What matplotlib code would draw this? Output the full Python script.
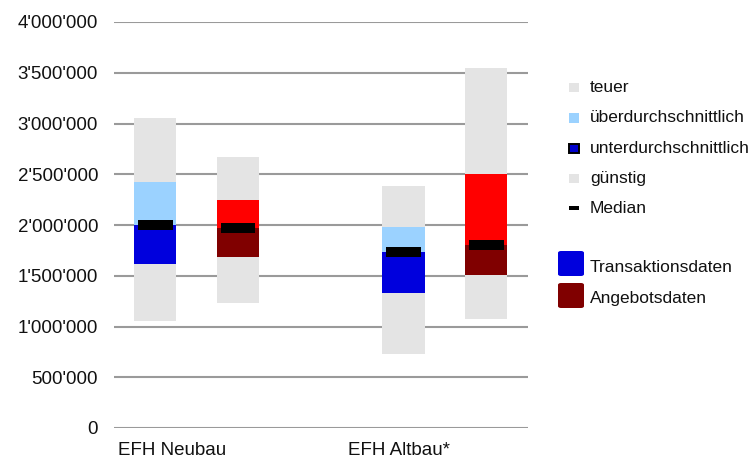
import matplotlib
matplotlib.use("Agg")
import matplotlib.pyplot as plt
from matplotlib.patches import Rectangle, FancyBboxPatch
from matplotlib.ticker import FuncFormatter

plt.rcParams["font.family"] = ["Liberation Sans", "DejaVu Sans"]

# Price ranges (CHF) per property type and data source
categories = ["EFH Neubau", "EFH Altbau*"]
sources = ["Transaktionsdaten", "Angebotsdaten"]

# order inside each list: [EFH Neubau, EFH Altbau*]
trans_low = [1_050_000, 730_000]
trans_q1 = [1_620_000, 1_330_000]
trans_median = [2_000_000, 1_730_000]
trans_q3 = [2_420_000, 1_980_000]
trans_high = [3_050_000, 2_380_000]

offer_low = [1_235_000, 1_075_000]
offer_q1 = [1_680_000, 1_510_000]
offer_median = [1_970_000, 1_800_000]
offer_q3 = [2_250_000, 2_500_000]
offer_high = [2_670_000, 3_550_000]

y_ticks = [0, 500_000, 1_000_000, 1_500_000, 2_000_000,
           2_500_000, 3_000_000, 3_500_000, 4_000_000]

legend_ranges = ["teuer", "überdurchschnittlich", "unterdurchschnittlich",
                 "günstig", "Median"]

GREY = "#e4e4e4"
LIGHT_BLUE = "#9bd2ff"
BLUE = "#0000dd"
RED = "#ff0000"
DARK_RED = "#800000"
TEXT = "#111111"
FS_AXIS = 13.5
FS_LEG = 12.5

W, H = 751, 459
fig = plt.figure(figsize=(W / 100, H / 100), dpi=100)
ax = fig.add_axes([114 / W, 1 - 428 / H, (527.7 - 114) / W, (428 - 22) / H])


def fig_xy(px, py):
    return px / W, 1 - py / H


# slots: two bars per category, one empty slot between categories
slot_of = {0: (0, 1), 1: (3, 4)}
bar_w = 0.51
med_w = 0.42

for i in range(len(categories)):
    xt, xo = slot_of[i]
    # Transaktionsdaten column
    ax.bar(xt, trans_high[i] - trans_low[i], bottom=trans_low[i], width=bar_w,
           color=GREY, zorder=2)
    ax.bar(xt, trans_q3[i] - trans_median[i], bottom=trans_median[i],
           width=bar_w, color=LIGHT_BLUE, zorder=3)
    ax.bar(xt, trans_median[i] - trans_q1[i], bottom=trans_q1[i],
           width=bar_w, color=BLUE, zorder=3)
    ax.hlines(trans_median[i], xt - med_w / 2, xt + med_w / 2,
              colors="#000000", linewidth=7.2, zorder=4)
    # Angebotsdaten column
    ax.bar(xo, offer_high[i] - offer_low[i], bottom=offer_low[i], width=bar_w,
           color=GREY, zorder=2)
    ax.bar(xo, offer_q3[i] - offer_median[i], bottom=offer_median[i],
           width=bar_w, color=RED, zorder=3)
    ax.bar(xo, offer_median[i] - offer_q1[i], bottom=offer_q1[i],
           width=bar_w, color=DARK_RED, zorder=3)
    ax.hlines(offer_median[i], xo - med_w / 2, xo + med_w / 2,
              colors="#000000", linewidth=7.2, zorder=4)

ax.set_xlim(-0.5, 4.5)
ax.set_ylim(0, 4_000_000)
ax.set_yticks(y_ticks)
ax.yaxis.set_major_formatter(
    FuncFormatter(lambda v, _: f"{int(v):,}".replace(",", "'")))
ax.tick_params(axis="y", length=0, pad=11.5, labelsize=FS_AXIS,
               labelcolor=TEXT)
ax.set_xticks([])
ax.grid(axis="y", color="#9a9a9a", linewidth=1.5, zorder=1)
ax.set_axisbelow(True)
for s in ax.spines.values():
    s.set_visible(False)

# category labels below the axis
ax.annotate(categories[0], xy=(0.0, 0), xycoords="axes fraction",
            xytext=(3, -16.5), textcoords="offset points",
            ha="left", va="center", fontsize=FS_AXIS, color=TEXT)
ax.annotate(categories[1], xy=(slot_of[1][0], 0),
            xycoords=("data", "axes fraction"),
            xytext=(-3, -16.5), textcoords="offset points",
            ha="center", va="center", fontsize=FS_AXIS, color=TEXT)

# legend: value ranges
row_base = [92, 122.5, 152.5, 182.5, 212.5]
swatch_style = [
    dict(fc=GREY, ec="none", lw=0),
    dict(fc=LIGHT_BLUE, ec="none", lw=0),
    dict(fc="#0000cc", ec="#000000", lw=1.4),
    dict(fc=GREY, ec="none", lw=0),
]
for label, base, k in zip(legend_ranges, row_base, range(5)):
    if k < 4:
        x0, y0 = fig_xy(569, base)
        fig.patches.append(Rectangle((x0, y0), 10 / W, 9 / H,
                                     transform=fig.transFigure,
                                     **swatch_style[k]))
    else:
        x0, y0 = fig_xy(569, base - 5)
        fig.patches.append(Rectangle((x0, y0 - 2 / H), 10 / W, 4 / H,
                                     transform=fig.transFigure,
                                     fc="#000000", ec="none"))
    tx, ty = fig_xy(590, base)
    fig.text(tx, ty, label, ha="left", va="baseline", fontsize=FS_LEG,
             color=TEXT)

# legend: data sources
for label, color, top, base in zip(sources, [BLUE, DARK_RED],
                                   [251, 283], [272, 303]):
    x0, y0 = fig_xy(558, top + 25)
    fig.patches.append(FancyBboxPatch((x0, y0), 26 / W, 25 / H,
                                      boxstyle="round,pad=0,rounding_size=0.004",
                                      transform=fig.transFigure,
                                      fc=color, ec="none"))
    tx, ty = fig_xy(590, base)
    fig.text(tx, ty, label, ha="left", va="baseline", fontsize=FS_LEG,
             color=TEXT)

fig.savefig("out.png", dpi=100)
